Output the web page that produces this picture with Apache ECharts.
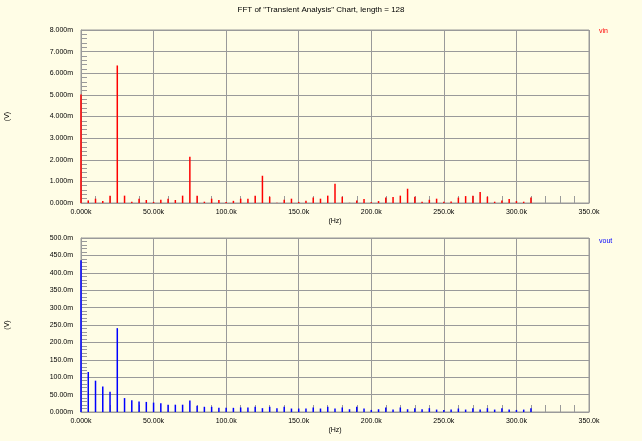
<!DOCTYPE html>
<html>
<head>
<meta charset="utf-8">
<script src="https://cdn.jsdelivr.net/npm/echarts@6/dist/echarts.min.js"></script>
<style>
html,body{margin:0;padding:0;background:#fffde6;}
#c{width:642px;height:441px;}
</style>
</head>
<body>
<div id="c"></div>
<script>
// Frequency bins (kHz)
var freqKHz = [0,5,10,15,20,25,30,35,40,45,50,55,60,65,70,75,80,85,90,95,100,105,110,115,120,125,130,135,140,145,150,155,160,165,170,175,180,185,190,195,200,205,210,215,220,225,230,235,240,245,250,255,260,265,270,275,280,285,290,295,300,305,310];
// vin magnitude (mV)
var vinMV = [5.02,0.12,0.2,0.09,0.34,6.36,0.34,0.06,0.2,0.14,0.05,0.15,0.2,0.14,0.34,2.14,0.34,0.06,0.2,0.14,0.05,0.1,0.2,0.2,0.33,1.26,0.29,0.01,0.15,0.2,0.05,0.1,0.26,0.2,0.34,0.89,0.29,0.01,0.12,0.18,0.04,0.09,0.26,0.28,0.34,0.66,0.29,0.06,0.15,0.2,0.06,0.07,0.25,0.32,0.33,0.51,0.29,0.06,0.12,0.18,0.09,0.06,0.25];
// vout magnitude (mV)
var voutMV = [436,115,90,73,58,241,40,34,30,29,27,25,21,21,21,33,18,15,15,12,12,12,13,13,15,11,15,11,15,10,10,10,13,10,15,10,13,8,15,10,6,8,13,7,13,8,11,8,11,7,6,7,10,7,11,7,11,7,11,7,6,7,11];
// Tick labels
var xTickLabels = ['0.000k','50.00k','100.0k','150.0k','200.0k','250.0k','300.0k','350.0k'];
var vinTickLabels = ['0.000m','1.000m','2.000m','3.000m','4.000m','5.000m','6.000m','7.000m','8.000m'];
var voutTickLabels = ['0.000m','50.00m','100.0m','150.0m','200.0m','250.0m','300.0m','350.0m','400.0m','450.0m','500.0m'];
var title = 'FFT of "Transient Analysis" Chart, length = 128';

var FONT = 'Liberation Sans';
var GRID_C = '#9a9a9a';

function pairs(xs, ys){ var out=[]; for(var i=0;i<ys.length;i++){ out.push([xs[i]*1000, ys[i]]); } return out; }

function xAxis(gi){
  return {
    type:'value', gridIndex:gi, min:0, max:350000, interval:50000,
    name:'(Hz)', nameLocation:'middle', nameGap:15,
    nameTextStyle:{fontFamily:FONT,fontSize:7,color:'#000'},
    axisLine:{show:true,lineStyle:{color:GRID_C,width:1}},
    axisTick:{show:true,inside:true,length:7,lineStyle:{color:GRID_C}},
    minorTick:{show:true,splitNumber:5,length:7,lineStyle:{color:GRID_C,width:1}},
    splitLine:{show:true,lineStyle:{color:GRID_C,width:1}},
    axisLabel:{fontFamily:FONT,fontSize:7,color:'#000',margin:6,
      formatter:function(v){ return xTickLabels[Math.round(v/50000)]; }}
  };
}
function yAxis(gi, max, interval, labels){
  return {
    type:'value', gridIndex:gi, min:0, max:max, interval:interval,
    name:'(V)', nameLocation:'middle', nameGap:70, nameRotate:90,
    nameTextStyle:{fontFamily:FONT,fontSize:7,color:'#000'},
    axisLine:{show:true,lineStyle:{color:GRID_C,width:1}},
    axisTick:{show:true,inside:true,length:6,lineStyle:{color:GRID_C}},
    minorTick:{show:true,splitNumber:5,length:6,lineStyle:{color:GRID_C,width:1}},
    splitLine:{show:true,lineStyle:{color:GRID_C,width:1}},
    axisLabel:{fontFamily:FONT,fontSize:7,color:'#000',margin:8,
      formatter:function(v){ return labels[Math.round(v/interval)]; }}
  };
}

var chart = echarts.init(document.getElementById('c'), null, {renderer:'canvas'});
chart.setOption({
  backgroundColor:'#fffde6',
  animation:false,
  title:{text:title,left:'center',top:1,textStyle:{fontFamily:FONT,fontSize:8,fontWeight:'normal',color:'#000'}},
  legend:[
    {data:[{name:'vin',textStyle:{color:'#ff0000'}}],left:594,top:28,padding:0,itemWidth:0,itemHeight:0,icon:'rect',
     textStyle:{fontFamily:FONT,fontSize:7},selectedMode:false},
    {data:[{name:'vout',textStyle:{color:'#0000ff'}}],left:594,top:238,padding:0,itemWidth:0,itemHeight:0,icon:'rect',
     textStyle:{fontFamily:FONT,fontSize:7},selectedMode:false}
  ],
  grid:[
    {left:81,top:30,width:508,height:173,show:true,borderColor:GRID_C,borderWidth:1,backgroundColor:'transparent',outerBoundsMode:'none',containLabel:false},
    {left:81,top:238,width:508,height:174,show:true,borderColor:GRID_C,borderWidth:1,backgroundColor:'transparent',outerBoundsMode:'none',containLabel:false}
  ],
  xAxis:[xAxis(0), xAxis(1)],
  yAxis:[yAxis(0,8,1,vinTickLabels), yAxis(1,500,50,voutTickLabels)],
  series:[
    {name:'vin',type:'bar',xAxisIndex:0,yAxisIndex:0,barWidth:1.5,itemStyle:{color:'#ff0000'},data:pairs(freqKHz,vinMV)},
    {name:'vout',type:'bar',xAxisIndex:1,yAxisIndex:1,barWidth:1.5,itemStyle:{color:'#0000ff'},data:pairs(freqKHz,voutMV)}
  ]
});
</script>
</body>
</html>
